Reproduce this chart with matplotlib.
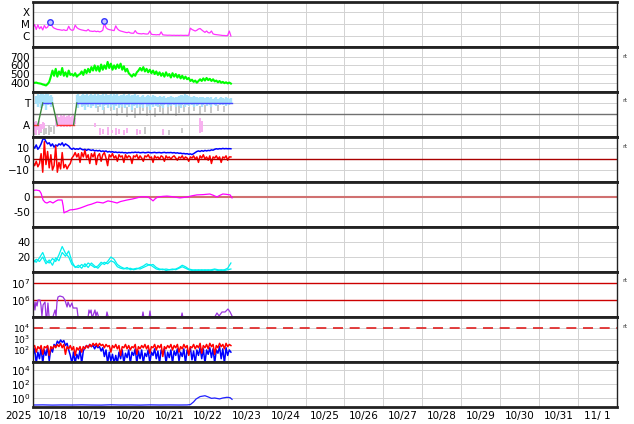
import numpy as np
import matplotlib
matplotlib.use('Agg')
import matplotlib.pyplot as plt

# ---- data (hours since 10/18 00:00) ----
day_labels = ['10/18', '10/19', '10/20', '10/21', '10/22', '10/23', '10/24', '10/25',
              '10/26', '10/27', '10/28', '10/29', '10/30', '10/31', '11/ 1']

# X-ray flux, hourly, in units of 1e-6 W/m2
xray_c = [5.0, 9.0, 3.5, 8.5, 4.0, 6.0, 3.2, 7.5, 4.5, 5.5,
          10.5, 13.0, 6.0, 4.5, 4.0, 3.5, 3.4, 3.2, 3.0, 3.3,
          2.9, 3.0, 6.5, 3.5, 3.0, 3.2, 8.0, 5.0, 4.0, 3.5,
          3.2, 3.0, 2.8, 2.7, 3.5, 2.6, 2.5, 2.4, 2.6, 2.3,
          2.5, 2.2, 2.4, 3.0, 12.0, 5.0, 3.8, 3.4, 3.2, 3.0,
          2.8, 7.0, 4.0, 3.0, 2.6, 2.4, 2.2, 2.0, 1.9, 2.1,
          1.8, 1.7, 1.7, 2.8, 1.8, 1.6, 1.55, 1.5, 1.6, 1.5,
          1.45, 1.5, 2.6, 1.4, 1.3, 1.3, 1.25, 1.3, 1.25, 2.2,
          1.25, 1.2, 1.18, 1.15, 1.17, 1.15, 1.13, 1.15, 1.12, 1.14,
          1.12, 1.15, 1.13, 1.12, 1.14, 1.12, 1.15, 4.5, 3.5, 3.0,
          2.6, 3.0, 3.8, 4.2, 3.2, 2.5, 2.0, 2.6, 1.9, 1.8,
          2.6, 1.5, 1.35, 1.3, 1.25, 1.2, 1.15, 1.1, 1.1, 1.05,
          1.1, 2.6, 1.0]
flare_hours = [10.5, 44.0]
flare_c = [14.7, 17.8]

# solar wind speed, hourly
speed = [405, 398, 402, 395, 392, 388, 380, 375, 368, 385,
         410, 470, 540, 480, 560, 470, 530, 490, 570, 480,
         520, 470, 540, 490, 500, 480, 510, 470, 490, 500,
         530, 490, 550, 510, 560, 520, 580, 540, 600, 540,
         590, 530, 610, 550, 600, 560, 640, 570, 620, 550,
         600, 560, 610, 570, 620, 550, 590, 530, 560, 510,
         490, 470, 500, 480, 520, 540, 570, 540, 580, 530,
         560, 520, 550, 510, 540, 500, 530, 490, 520, 480,
         510, 470, 520, 480, 500, 460, 510, 470, 500, 460,
         490, 450, 480, 445, 470, 440, 455, 420, 435, 410,
         425, 400, 420, 440, 420, 450, 425, 455, 430, 445,
         420, 440, 415, 425, 405, 420, 400, 410, 395, 405,
         392, 402, 390]

# sector panel: T = +1, A = -1
sector_hours = [0, 3, 6, 12, 15, 25, 27, 122.5]
sector_vals = [-1, -1, 1, 1, -1, -1, 1, 1]

cloud_hours = [2, 3, 4, 5, 6, 7, 8, 9, 10, 11, 12] + list(range(27, 123))
cloud_hi = [1.6, 1.8, 1.7, 1.9, 1.8, 1.7, 1.9, 1.8, 1.6, 1.7, 1.5,
            1.7, 1.8, 1.6, 1.75, 1.85, 1.7, 1.8, 1.6, 1.75, 1.8,
            1.7, 1.85, 1.65, 1.8, 1.7, 1.75, 1.85, 1.6, 1.8, 1.7,
            1.75, 1.8, 1.65, 1.85, 1.7, 1.8, 1.6, 1.75, 1.7, 1.8,
            1.65, 1.75, 1.8, 1.6, 1.7, 1.75, 1.8, 1.65, 1.7, 1.55,
            1.6, 1.7, 1.5, 1.65, 1.7, 1.6, 1.55, 1.7, 1.6, 1.5,
            1.55, 1.6, 1.5, 1.55, 1.6, 1.45, 1.5, 1.55, 1.6, 1.5,
            1.45, 1.55, 1.5, 1.6, 1.7, 1.75, 1.65, 1.8, 1.7, 1.6,
            1.55, 1.5, 1.6, 1.55, 1.5, 1.45, 1.5, 1.55, 1.5, 1.45,
            1.5, 1.55, 1.45, 1.5, 1.4, 1.45, 1.5, 1.4, 1.45, 1.5,
            1.45, 1.4, 1.5, 1.45, 1.4, 1.45]
cloud_lo = [0.9, 0.6, 1.0, 0.5, 0.7, 0.9, 0.4, 0.8, 1.0, 0.6, 0.9,
            0.8, 0.5, 0.9, 0.6, 0.7, 0.4, 0.8, 0.6, 0.9, 0.5,
            0.7, 0.9, 0.5, 0.8, 0.6, 0.9, 0.4, 0.7, 0.8, 0.5,
            0.9, 0.6, 0.8, 0.4, 0.7, 0.9, 0.5, 0.8, 0.6, 0.9,
            0.5, 0.8, 0.6, 0.9, 0.4, 0.7, 0.8, 0.5, 0.9, 0.6,
            0.8, 0.5, 0.9, 0.6, 0.7, 0.4, 0.8, 0.6, 0.9, 0.7,
            0.6, 0.9, 0.7, 0.5, 0.8, 0.9, 0.6, 0.8, 0.7, 0.9,
            0.8, 0.6, 0.9, 0.7, 0.5, 0.8, 0.9, 0.6, 0.8, 0.7,
            0.9, 0.8, 0.6, 0.9, 0.7, 0.8, 0.9, 0.6, 0.8, 0.9,
            0.7, 0.9, 0.8, 0.6, 0.9, 0.8, 0.7, 0.9, 0.8, 0.9,
            0.8, 0.9, 0.7, 0.9, 0.8, 0.9]

gray_hours = [1, 2, 4, 5, 7, 8, 10, 11, 13, 40, 44, 48, 52, 55, 58, 61, 63, 66, 68,
              70, 72, 75, 78, 80, 83, 85, 88, 90, 93, 96, 99, 103, 106, 110, 114, 118,
              64, 69, 84, 92]
gray_lo = [-1.9, -1.8, -1.9, -1.7, -1.9, -1.8, -1.9, -1.6, -1.8, 0.2, 0.0, 0.3, -0.2,
           0.1, -0.3, 0.2, -0.4, 0.0, 0.3, -0.2, 0.1, -0.3, 0.2, 0.0, -0.1, 0.3, -0.2,
           0.1, 0.2, 0.0, 0.3, -0.1, 0.2, 0.1, 0.3, 0.2, -1.9, -1.8, -1.9, -1.7]
gray_hi = [-1.2, -1.0, -1.3, -0.9, -1.1, -1.3, -1.0, -1.2, -1.1, 0.7, 0.6, 0.8, 0.5,
           0.7, 0.6, 0.8, 0.5, 0.7, 0.8, 0.6, 0.7, 0.5, 0.8, 0.6, 0.7, 0.8, 0.6,
           0.7, 0.8, 0.6, 0.8, 0.7, 0.8, 0.6, 0.8, 0.7, -1.4, -1.2, -1.5, -1.3]

pink_hours = [0, 1, 2, 3, 4, 5, 6, 7,
              14, 15, 16, 17, 18, 19, 20, 21, 22, 23, 24, 25, 26,
              38, 41, 43, 46, 49, 51, 53, 56, 58, 64, 66, 80, 103, 104]
pink_lo = [-1.9, -1.7, -1.9, -1.5, -1.8, -1.6, -1.4, -1.3,
           -1.1, -1.2, -1.0, -1.2, -1.1, -1.2, -1.0, -1.2, -1.1, -1.2, -1.0, -1.1, -0.9,
           -1.2, -1.9, -1.8, -1.9, -1.7, -1.9, -1.8, -1.9, -1.7, -1.9, -1.8, -1.9, -1.7, -1.6]
pink_hi = [-0.5, -0.7, -0.6, -0.8, -0.6, -0.9, -0.7, -0.8,
           -0.2, -0.1, -0.3, -0.1, -0.2, -0.1, -0.3, -0.2, -0.1, -0.3, -0.2, -0.1, -0.4,
           -0.8, -1.3, -1.4, -1.2, -1.5, -1.3, -1.4, -1.5, -1.3, -1.4, -1.5, -1.4, -0.4, -0.6]

# magnetic field, hourly (nT)
bt = [12, 10, 13, 9, 11, 14, 18, 19, 16, 14,
      15, 12, 14, 11, 13, 12, 14, 13, 15, 12,
      14, 13, 12, 10, 9, 10, 9, 9.5, 9, 10,
      9, 8.5, 9, 8, 9, 8.5, 8, 8.5, 7.5, 8,
      7.5, 8, 7, 7.5, 7, 7.5, 6.5, 7, 6.5, 6.8,
      6.2, 6.5, 6, 6.3, 6, 6.2, 5.8, 6, 5.5, 6,
      5.8, 6.2, 6, 6.4, 6, 6.3, 5.8, 6, 6.2, 5.8,
      6, 6.3, 6, 5.8, 6, 6.2, 5.8, 6, 6.1, 5.7,
      6, 6.2, 5.8, 6, 5.9, 6.1, 5.7, 6, 5.5, 5.8,
      5.3, 5.5, 5, 5.2, 4.8, 5, 4.5, 4.8, 4.2, 5,
      6, 7, 7.5, 7, 7.8, 7.2, 8, 7.5, 8, 7.8,
      8.5, 8.2, 9, 9.5, 9.2, 9.6, 9.4, 9.8, 9.5, 9.7,
      9.5, 9.6, 9.5]
bz = [-3, -6, -2, -7, -4, 5, -12, 16, -5, 7,
      -8, 4, -10, -6, 12, -12, -3, -9, 6, -8,
      -5, -9, -6, -4, 1, 3, 6, 2, 5, -3,
      6, 2, 8, 1, 4, -4, 5, 2, 6, -5,
      3, 5, -2, 4, 6, 1, -6, 4, 2, 5,
      1, 3, -2, 4, 2, 3, -3, 4, 1, 3,
      2, -4, 3, 2, 4, 0, 3, 1, -2, 3,
      2, 4, 1, 2, -3, 3, 1, 2, 0, 3,
      2, -2, 3, 1, 2, 0, 2, 3, 1, -1,
      2, 1, 3, 0, 2, 1, -2, 2, 1, 3,
      0, 2, -3, 3, 1, 4, 0, 2, -1, 3,
      -4, 2, 1, 3, 0, 2, -3, 2, 1, 3,
      -1, 2, 2]

# Dst index
dst_hours = [0, 2, 4, 5, 6.2, 7.5, 8.6, 10.5, 12.3, 14,
             15.4, 17.9, 18.6, 19.1, 20, 21, 22.8, 25, 27, 29,
             31, 33.9, 36, 39.5, 41, 43.2, 46.2, 49, 51.8, 54,
             58, 61, 64, 66, 68, 70.9, 72.5, 74, 75.5, 77,
             80, 82.6, 86, 90.6, 95, 98, 101, 105, 109, 111,
             113.4, 115, 117, 119, 121.5, 122.7]
dst_vals = [22, 23, 21, 12, -10, -18, -20, -15, -20, -14,
            -10, -10, -30, -53, -50, -48, -43, -42, -40, -37,
            -33, -27, -24, -17, -18, -20, -13, -16, -20, -15,
            -10, -7, -3, 0, 1, 0, -6, -13, -5, 0,
            2, 3, 1, -3, 0, 4, 7, 8, 10, 6,
            0, 5, 10, 9, 7, -3]

# two cyan series, every 2 hours
cyan_hours = list(range(0, 123, 2))
cyan_a = [16, 13, 19, 26, 15, 12, 18, 14, 23, 34,
          25, 20, 10, 7, 6, 10, 7, 12, 9, 6,
          8, 13, 10, 14, 20, 17, 10, 7, 5, 4,
          5, 3, 4, 6, 8, 11, 9, 10, 6, 4,
          3, 4, 3, 3, 4, 6, 9, 7, 4, 3,
          2, 3, 2, 3, 2, 3, 4, 3, 2, 3,
          5, 12]
cyan_b = [12, 17, 14, 20, 11, 16, 9, 19, 15, 26,
          21, 28, 14, 6, 9, 5, 11, 6, 12, 8,
          5, 10, 13, 11, 15, 13, 7, 5, 4, 6,
          3, 4, 5, 4, 6, 8, 10, 7, 4, 3,
          4, 2, 3, 4, 3, 5, 7, 5, 3, 2,
          3, 2, 3, 2, 3, 2, 3, 2, 3, 2,
          3, 4]

# purple flux (log10)
p7_hours = [0, 0.6, 1.2, 1.8, 2.5, 3.1, 4.3, 4.9, 5.5, 6.2,
            7.4, 8.0, 8.6, 9.2, 9.9, 12.3, 13.6, 14.2, 14.8, 15.4,
            16.6, 18.5, 19.7, 21, 21.6, 22.8, 24, 24.7, 27.1, 27.7,
            29, 33.9, 34.5, 35.1, 35.8, 36.4, 38.2, 38.8, 39.5, 40.7,
            45, 45.6, 46.2, 47.5, 67.2, 67.8, 68.4, 71.5, 72.1, 72.7,
            91.2, 91.9, 92.5, 111.6, 113.4, 114.7, 116.5, 118.4, 120.2, 121.5,
            122.7]
p7_log = [5.70, 5.88, 5.40, 5.88, 5.64, 6.0, 6.0, 5.7, 5.04, 5.7,
          5.88, 5.04, 5.0, 5.82, 5.0, 5.0, 5.4, 5.04, 5.88, 6.18,
          6.24, 6.18, 6.0, 5.58, 5.88, 5.58, 5.82, 5.52, 5.52, 5.04,
          4.9, 4.9, 5.4, 5.22, 5.4, 4.9, 5.4, 5.04, 5.28, 4.9,
          4.9, 5.28, 5.04, 4.9, 4.9, 5.28, 4.9, 4.9, 5.34, 4.9,
          4.9, 5.22, 4.9, 4.9, 5.22, 5.04, 5.28, 5.28, 5.46, 5.28,
          5.04]

# electron flux (log10), hourly
p8_red = [2.2, 2.4, 1.8, 2.3, 2.1, 2.4, 1.6, 2.3, 2.2, 2.4,
          1.5, 2.3, 2.1, 2.4, 2.2, 2.5, 2.3, 2.6, 2.2, 2.5,
          1.6, 2.3, 2.1, 2.4, 2.0, 2.3, 1.5, 2.2, 2.0, 2.3,
          1.8, 2.3, 2.1, 2.4, 2.2, 2.5, 2.3, 2.6, 2.4, 2.6,
          2.3, 2.6, 2.4, 2.5, 2.2, 2.5, 2.3, 2.4, 1.8, 2.4,
          2.2, 2.5, 2.1, 2.4, 1.5, 2.3, 2.2, 2.5, 2.1, 2.4,
          2.0, 2.3, 2.2, 2.5, 1.6, 2.3, 2.1, 2.4, 2.2, 2.5,
          2.1, 2.4, 1.7, 2.3, 2.2, 2.5, 2.0, 2.4, 2.2, 2.5,
          1.4, 2.3, 2.1, 2.4, 2.2, 2.5, 2.0, 2.4, 2.2, 2.5,
          1.8, 2.3, 2.1, 2.5, 2.2, 2.4, 1.5, 2.3, 2.2, 2.5,
          2.1, 2.4, 2.2, 2.6, 1.7, 2.4, 2.2, 2.5, 2.1, 2.6,
          2.3, 2.5, 1.6, 2.4, 2.2, 2.6, 2.3, 2.5, 2.1, 2.6,
          2.3, 2.5, 2.4]
p8_blue = [1.5, 2.1, 0.8, 1.8, 1.2, 2.2, 0.8, 2.0, 1.5, 2.3,
           1.0, 2.2, 1.8, 2.5, 2.3, 2.8, 2.6, 2.9, 2.7, 2.85,
           2.4, 2.6, 2.0, 1.5, 0.8, 1.8, 0.8, 1.6, 1.2, 2.0,
           0.8, 1.9, 2.2, 2.4, 2.2, 2.5, 2.3, 2.4, 2.1, 2.4,
           2.2, 2.3, 1.9, 2.2, 1.4, 2.0, 0.8, 1.8, 1.0, 1.6,
           0.8, 1.5, 0.8, 1.8, 1.2, 2.0, 0.8, 1.7, 1.3, 2.0,
           0.8, 1.8, 1.5, 2.1, 0.8, 1.9, 1.2, 2.0, 0.8, 1.7,
           1.4, 2.0, 0.8, 1.8, 1.5, 2.1, 1.2, 1.9, 0.8, 2.0,
           1.6, 2.1, 0.8, 1.8, 1.3, 2.0, 0.8, 1.9, 1.5, 2.1,
           1.0, 1.8, 1.4, 2.1, 0.8, 2.0, 1.6, 2.2, 1.1, 1.9,
           0.8, 2.0, 1.5, 2.2, 1.2, 2.1, 0.8, 2.0, 1.6, 2.2,
           1.3, 2.1, 0.8, 2.0, 1.7, 2.3, 1.2, 2.1, 0.8, 2.2,
           1.5, 2.0, 1.8]

# bottom panel (log10)
p9_hours = [0, 6, 12, 18, 24, 30, 36, 42, 48, 54, 60, 66, 72, 78, 84, 90, 95, 97, 99,
            100.5, 103, 106, 108, 110, 112, 115, 117, 119.6, 121.5, 122.7]
p9_log = [-0.94, -0.92, -0.95, -0.93, -0.94, -0.92, -0.94, -0.95, -0.91, -0.94, -0.93,
          -0.95, -0.92, -0.94, -0.93, -0.94, -0.93, -0.88, -0.5, -0.1, 0.25, 0.37, 0.2,
          0.0, 0.05, -0.08, 0.05, 0.15, 0.1, -0.14]

# ---- figure ----
W, H = 634, 424
fig = plt.figure(figsize=(W / 100, H / 100), dpi=100)
fs = 7.5
grid_c = '#d2d2d2'

axs = []
for i in range(9):
    top = 2 + 45 * i
    ax = fig.add_axes([33 / W, 1 - (top + 45) / H, 584 / W, 45 / H])
    ax.set_xlim(0, 360)
    ax.set_xticks(range(0, 361, 24))
    ax.grid(True, color=grid_c, lw=0.7)
    ax.set_axisbelow(True)
    ax.tick_params(axis='x', which='both', length=0, labelbottom=False)
    ax.tick_params(axis='y', which='both', length=0, labelsize=fs, pad=2)
    for s in ['top', 'bottom']:
        ax.spines[s].set_linewidth(2)
        ax.spines[s].set_color('#222222')
    for s in ['left', 'right']:
        ax.spines[s].set_linewidth(1)
        ax.spines[s].set_color('#222222')
    axs.append(ax)

hrs = lambda v: np.arange(len(v))

# 1: X-ray
ax = axs[0]
ax.set_yscale('log')
ax.plot(hrs(xray_c), np.array(xray_c) * 1e-6, color='#ff33ff', lw=0.9)
ax.plot(flare_hours, np.array(flare_c) * 1e-6, 'o', ms=4, mfc='#c8c8ff', mec='#3333ff', mew=1)
ax.set_ylim(1.21e-7, 6.8e-4)
ax.set_yticks([1e-6, 1e-5, 1e-4])
ax.set_yticklabels(['C', 'M', 'X'])
ax.minorticks_off()

# 2: speed
ax = axs[1]
ax.plot(hrs(speed), speed, color='#00ff00', lw=1.5)
ax.set_ylim(293, 812)
ax.set_yticks([400, 500, 600, 700])

# 3: sector
ax = axs[2]
ax.vlines(gray_hours, gray_lo, gray_hi, color='#c8c8c8', lw=1.4)
ax.vlines(cloud_hours, cloud_lo, cloud_hi, color='#a8e2fa', lw=1.7)
ax.vlines(pink_hours, pink_lo, pink_hi, color='#f8b0f0', lw=1.4)
ax.axhline(0, color='#707070', lw=1)
for k in range(len(sector_hours) - 1):
    v0, v1 = sector_vals[k], sector_vals[k + 1]
    c = '#3a883a' if v0 != v1 else ('#4848ff' if v0 > 0 else '#ff3030')
    ax.plot(sector_hours[k:k + 2], sector_vals[k:k + 2], color=c, lw=1)
ax.set_ylim(-2.1, 2.0)
ax.set_yticks([1, -1])
ax.set_yticklabels(['T', 'A'])

# 4: Bt / Bz
ax = axs[3]
ax.plot(hrs(bt), bt, color='#0000ff', lw=1.1)
ax.plot(hrs(bz), bz, color='#ff0000', lw=1.1)
ax.axhline(0, color='#aa0000', lw=1)
ax.set_ylim(-21, 20.3)
ax.set_yticks([10, 0, -10])
ax.set_yticklabels(['10', '0', '\u221210'])

# 5: Dst
ax = axs[4]
ax.axhline(0, color='#d07070', lw=1.5)
ax.plot(dst_hours, dst_vals, color='#ff00ff', lw=0.9)
ax.set_ylim(-100, 50)
ax.set_yticks([0, -50])
ax.set_yticklabels(['0', '-50'])

# 6: cyan
ax = axs[5]
ax.plot(cyan_hours, cyan_a, color='#00f0f0', lw=0.9)
ax.plot(cyan_hours, cyan_b, color='#00f0f0', lw=0.9)
ax.set_ylim(0, 60)
ax.set_yticks([20, 40])

# 7: purple flux
ax = axs[6]
ax.set_yscale('log')
ax.axhline(1e6, color='#cc0000', lw=1)
ax.axhline(1e7, color='#cc0000', lw=1)
ax.plot(p7_hours, 10 ** np.array(p7_log), color='#9933dd', lw=0.9)
ax.set_ylim(10 ** 4.98, 10 ** 7.68)
ax.set_yticks([1e6, 1e7])
ax.minorticks_off()

# 8: electron flux
ax = axs[7]
ax.set_yscale('log')
ax.plot(hrs(p8_blue), 10 ** np.array(p8_blue), color='#0000ff', lw=1.1)
ax.plot(hrs(p8_red), 10 ** np.array(p8_red), color='#ff0000', lw=1.1)
ax.axhline(1e4, color='#e02020', lw=1.2, dashes=(6, 4))
ax.set_ylim(10 ** 0.9, 10 ** 5.0)
ax.set_yticks([1e2, 1e3, 1e4])
ax.minorticks_off()
ax.tick_params(axis='y', labelsize=6.6)

# 9: bottom
ax = axs[8]
ax.set_yscale('log')
ax.plot(p9_hours, 10 ** np.array(p9_log), color='#2020ff', lw=0.9)
ax.set_ylim(10 ** -1.22, 10 ** 5.13)
ax.set_yticks([1e0, 1e2, 1e4])
ax.minorticks_off()
ax.set_xticks(np.arange(12, 360, 24), minor=True)
ax.set_xticklabels(day_labels, minor=True)
ax.tick_params(axis='x', which='minor', labelbottom=True, labelsize=fs, pad=3)
ax.annotate('2025', xy=(0, 0), xycoords='axes fraction', xytext=(-1, -3),
            textcoords='offset points', ha='right', va='top', fontsize=fs)

for y in [57, 101, 146, 281, 326]:
    fig.text(622 / W, 1 - y / H, 'rt', fontsize=4.5, color='#333333', va='center')

fig.savefig('out.png', dpi=100)
